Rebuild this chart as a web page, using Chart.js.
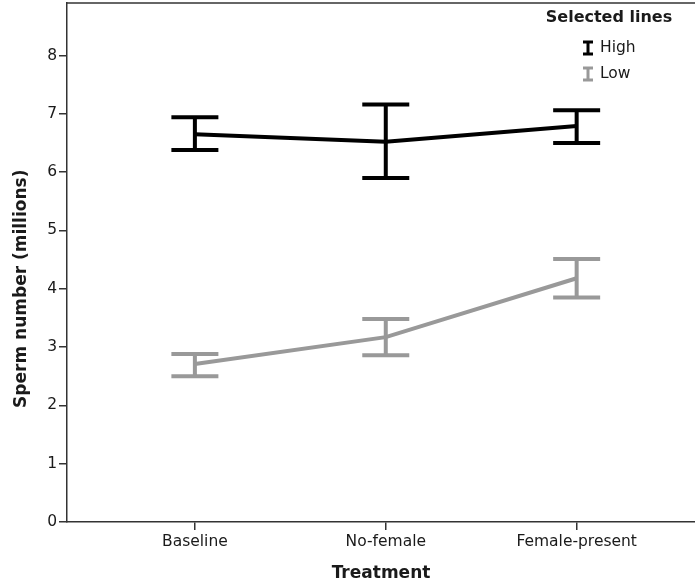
<!DOCTYPE html>
<html>
<head>
<meta charset="utf-8">
<script src="https://cdn.jsdelivr.net/npm/chart.js@4.4.1/dist/chart.umd.min.js"></script>
<style>
  html, body { margin: 0; padding: 0; background: #fff; }
  #wrap { width: 695px; height: 587px; }
</style>
</head>
<body>
<div id="wrap"><canvas id="chart"></canvas></div>
<script>
const categories = ['Baseline', 'No-female', 'Female-present'];
const yTicks = [0, 1, 2, 3, 4, 5, 6, 7, 8];

// High selected line: mean with upper/lower error bar ends
const highMean  = [6.65, 6.52, 6.79];
const highUpper = [6.94, 7.16, 7.06];
const highLower = [6.38, 5.90, 6.50];

// Low selected line
const lowMean  = [2.71, 3.17, 4.18];
const lowUpper = [2.88, 3.48, 4.51];
const lowLower = [2.50, 2.86, 3.85];

const seriesNames = ['High', 'Low'];
const seriesColors = ['#000000', '#999999'];

const FONT = "'DejaVu Sans', sans-serif";
const TEXT = '#1a1a1a';
const AXIS = '#333333';

const toPoints = vals => vals.map((v, i) => ({ x: i + 1, y: v }));

const bars = [
  { upper: highUpper, lower: highLower, color: seriesColors[0] },
  { upper: lowUpper, lower: lowLower, color: seriesColors[1] }
];

// error bars with caps, drawn through the chart scales
const errorBars = {
  id: 'errorBars',
  afterDatasetsDraw(chart) {
    const {ctx, scales: {x, y}} = chart;
    ctx.save();
    ctx.lineWidth = 4;
    ctx.lineCap = 'butt';
    bars.forEach(b => {
      ctx.strokeStyle = b.color;
      b.upper.forEach((up, i) => {
        const px = x.getPixelForValue(i + 1);
        const top = y.getPixelForValue(up);
        const bot = y.getPixelForValue(b.lower[i]);
        ctx.beginPath();
        ctx.moveTo(px, top); ctx.lineTo(px, bot);
        ctx.moveTo(px - 23.5, top); ctx.lineTo(px + 23.5, top);
        ctx.moveTo(px - 23.5, bot); ctx.lineTo(px + 23.5, bot);
        ctx.stroke();
      });
    });
    ctx.restore();
  }
};

// top frame line, y title and the legend box
const extras = {
  id: 'extras',
  afterDraw(chart) {
    const {ctx, chartArea, scales: {y}} = chart;
    ctx.save();
    ctx.strokeStyle = AXIS;
    ctx.lineWidth = 1.5;
    ctx.beginPath();
    ctx.moveTo(chartArea.left, chartArea.top);
    ctx.lineTo(chartArea.right, chartArea.top);
    ctx.stroke();

    ctx.fillStyle = TEXT;
    ctx.font = 'bold 17px ' + FONT;
    ctx.textAlign = 'center';
    ctx.textBaseline = 'middle';
    ctx.translate(22, (y.getPixelForValue(0) + y.getPixelForValue(8)) / 2);
    ctx.rotate(-Math.PI / 2);
    ctx.fillText('Sperm number (millions)', 0, 0);
    ctx.restore();

    ctx.save();
    ctx.fillStyle = TEXT;
    ctx.font = 'bold 16px ' + FONT;
    ctx.textAlign = 'center';
    ctx.textBaseline = 'middle';
    ctx.fillText('Selected lines', 609, 18);
    ctx.font = '15.5px ' + FONT;
    ctx.textAlign = 'left';
    seriesNames.forEach((name, i) => {
      const cy = 48 + i * 26;
      ctx.strokeStyle = seriesColors[i];
      ctx.lineWidth = 3;
      ctx.beginPath();
      ctx.moveTo(588, cy - 6); ctx.lineTo(588, cy + 6);
      ctx.moveTo(583, cy - 6); ctx.lineTo(593, cy - 6);
      ctx.moveTo(583, cy + 6); ctx.lineTo(593, cy + 6);
      ctx.stroke();
      ctx.fillStyle = TEXT;
      ctx.fillText(name, 600, cy);
    });
    ctx.restore();
  }
};

new Chart(document.getElementById('chart'), {
  type: 'line',
  data: {
    datasets: [
      {
        label: seriesNames[1],
        data: toPoints(lowMean),
        borderColor: seriesColors[1],
        borderWidth: 4,
        pointRadius: 0,
        tension: 0
      },
      {
        label: seriesNames[0],
        data: toPoints(highMean),
        borderColor: seriesColors[0],
        borderWidth: 4,
        pointRadius: 0,
        tension: 0
      }
    ]
  },
  options: {
    responsive: true,
    maintainAspectRatio: false,
    animation: false,
    events: [],
    layout: { padding: { top: 3, right: 0, left: 0, bottom: 0 } },
    plugins: {
      legend: { display: false },
      tooltip: { enabled: false }
    },
    scales: {
      x: {
        type: 'linear',
        min: 0.33,
        max: 3.62,
        afterFit(scale) {
          scale.height = 65;
          scale.paddingLeft = 0;
          scale.paddingRight = 0;
        },
        afterBuildTicks(scale) { scale.ticks = categories.map((c, i) => ({ value: i + 1 })); },
        border: { color: AXIS, width: 1.5 },
        grid: { drawOnChartArea: false, drawTicks: true, tickLength: 8, color: AXIS, lineWidth: 1.5 },
        ticks: {
          padding: 3,
          color: TEXT,
          font: { family: FONT, size: 15.5 },
          callback: v => categories[v - 1]
        },
        title: {
          display: true,
          text: 'Treatment',
          color: TEXT,
          font: { family: FONT, size: 17, weight: 'bold' },
          padding: { top: 0, bottom: 3 }
        }
      },
      y: {
        min: 0,
        max: 8.9,
        afterFit(scale) {
          scale.width = 67;
          scale.paddingTop = 0;
          scale.paddingBottom = 0;
        },
        afterBuildTicks(scale) { scale.ticks = yTicks.map(v => ({ value: v })); },
        border: { color: AXIS, width: 1.5 },
        grid: { drawOnChartArea: false, drawTicks: true, tickLength: 8, color: AXIS, lineWidth: 1.5 },
        ticks: {
          padding: 2,
          color: TEXT,
          font: { family: FONT, size: 15.5 }
        }
      }
    }
  },
  plugins: [errorBars, extras]
});
</script>
</body>
</html>
